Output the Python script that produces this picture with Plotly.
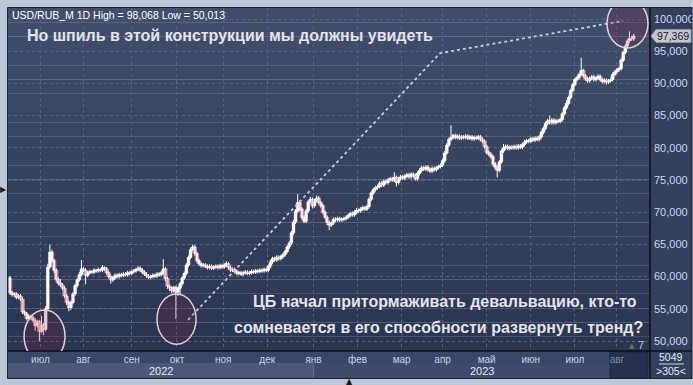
import plotly.graph_objects as go

# ---------------- data (USD/RUB daily candles) ----------------
close = [57.5,57.2,57.3,56.8,57.0,56.5,54.5,54.2,53.5,53.8,
 53.6,53.2,52.4,53.0,51.5,52.5,51.8,55.0,61.5,63.8,
 62.5,61.0,59.6,59.0,58.7,58.2,57.0,56.0,55.2,56.0,
 57.3,58.6,59.5,60.3,61.2,61.0,60.2,60.6,60.8,60.7,
 61.0,60.9,61.1,61.0,61.4,61.2,60.6,60.0,59.5,59.8,
 60.2,60.0,60.3,60.2,60.4,60.3,60.6,60.5,60.8,60.9,
 61.1,61.3,61.0,60.7,60.4,60.1,59.9,60.0,60.2,60.1,
 60.4,60.3,60.6,61.2,59.7,58.5,58.2,57.8,58.3,57.6,
 58.2,58.9,59.8,60.5,61.8,63.0,64.2,64.6,63.6,62.5,
 62.0,61.7,61.8,61.6,61.4,61.6,61.3,61.5,61.6,61.4,
 61.7,61.5,61.8,62.0,61.4,61.0,61.1,60.8,60.5,60.6,
 60.4,60.6,60.7,60.5,60.6,60.8,60.7,60.9,60.8,61.0,
 60.9,61.1,61.0,61.6,62.3,62.8,62.6,63.0,62.8,63.1,
 63.4,63.9,64.6,65.2,66.8,68.5,70.2,71.5,70.5,69.2,
 68.6,70.2,71.6,72.0,71.0,71.8,72.2,71.5,71.0,70.0,
 69.2,68.4,68.0,68.3,68.9,68.8,69.0,68.8,68.9,69.0,
 69.2,69.5,69.8,69.6,70.0,70.3,70.2,70.5,70.7,70.5,
 70.9,72.0,73.0,73.5,73.8,74.0,74.5,74.2,74.8,74.6,
 75.0,75.2,75.0,75.4,74.6,75.2,75.5,75.3,75.6,75.8,
 75.5,75.9,75.7,75.2,76.0,76.5,76.9,76.7,77.0,76.6,
 76.4,76.8,76.6,76.9,77.1,77.3,78.0,79.2,80.4,81.3,
 81.6,81.9,81.6,81.8,81.5,81.7,81.6,81.8,81.5,81.7,
 81.4,81.6,81.5,81.7,81.3,81.0,80.2,79.3,79.0,78.6,
 77.5,77.0,76.5,77.8,79.5,80.0,80.2,79.9,80.1,80.0,
 80.2,80.0,80.3,80.1,80.5,80.9,81.1,81.0,81.4,81.2,
 81.5,81.3,81.7,82.4,83.0,83.8,84.2,83.9,84.3,83.9,
 84.2,84.1,84.4,85.3,86.2,86.9,87.8,88.9,89.8,90.6,
 90.9,91.4,92.0,91.2,90.7,90.4,90.8,91.0,90.6,90.8,
 91.1,90.6,90.3,90.5,90.2,90.4,90.6,91.4,91.8,92.1,
 92.3,93.6,94.8,95.8,96.6,97.0,96.9,97.369]

high = [60.1,57.8,57.6,57.6,57.3,57.3,56.8,54.8,54.5,54.1,
 54.1,53.9,53.5,53.3,53.3,53.9,52.8,55.4,62.0,65.0,
 64.2,62.8,61.3,59.9,59.6,59.0,58.5,57.3,56.3,56.3,
 57.6,58.9,59.8,60.7,62.6,61.5,61.3,60.9,61.1,61.0,
 61.3,61.2,61.4,61.3,61.8,61.6,61.5,60.9,60.3,60.1,
 60.5,60.5,60.6,60.6,60.7,60.7,60.9,60.9,61.1,61.2,
 61.4,61.6,61.6,61.3,61.0,60.7,60.4,60.3,60.5,60.5,
 60.7,60.7,60.9,62.7,61.5,60.0,58.8,58.5,58.6,58.6,
 58.5,59.2,60.1,60.8,62.1,63.3,64.5,65.0,64.9,63.9,
 62.8,62.3,62.1,62.1,61.9,61.9,61.9,61.8,61.9,61.9,
 62.0,62.0,62.1,62.4,62.3,61.7,61.4,61.4,61.1,60.9,
 60.9,60.9,61.0,61.0,60.9,61.1,61.1,61.2,61.2,61.3,
 61.3,61.4,61.4,61.9,62.6,63.1,63.1,63.3,63.3,63.4,
 63.7,64.2,64.9,65.5,67.1,68.8,70.5,72.8,71.8,70.8,
 69.5,70.5,71.9,72.4,72.3,72.1,72.6,72.5,71.8,71.3,
 70.3,69.5,68.7,68.6,69.2,69.2,69.3,69.3,69.2,69.3,
 69.5,69.8,70.1,70.1,70.3,70.6,70.6,70.8,71.0,71.0,
 71.2,72.3,73.3,73.8,74.1,74.3,74.8,74.8,75.1,75.1,
 75.3,75.5,75.5,76.2,75.7,75.5,75.8,75.8,75.9,76.1,
 76.1,76.2,76.2,76.0,76.3,76.8,77.2,77.2,77.3,77.3,
 76.9,77.1,77.1,77.2,77.4,77.6,78.3,79.5,80.7,81.6,
 83.5,82.2,82.2,82.1,82.1,82.0,82.0,82.1,82.1,82.0,
 82.0,81.9,81.9,82.0,82.0,81.6,81.3,80.5,79.6,79.3,
 78.9,77.8,77.3,78.1,79.8,80.6,80.5,80.5,80.4,80.4,
 80.5,80.5,80.6,80.6,80.8,81.2,81.4,81.4,81.7,81.7,
 81.8,81.8,82.0,82.7,83.3,84.1,84.5,85.0,84.6,84.6,
 84.5,84.5,84.7,85.6,86.5,87.4,88.1,89.2,90.1,90.9,
 91.2,91.7,94.0,92.3,91.5,91.0,91.1,91.3,91.3,91.1,
 91.4,91.4,90.9,90.8,90.8,90.7,90.9,91.7,92.1,92.4,
 92.6,93.9,95.1,96.1,96.9,98.068,97.4,97.7]

low = [57.2,56.9,56.9,56.5,56.5,56.2,54.2,53.9,53.2,53.2,
 53.3,52.9,51.6,52.1,50.013,51.2,50.9,51.5,54.8,61.2,
 62.1,60.6,59.2,58.6,58.4,57.9,56.7,55.6,54.6,54.8,
 55.7,57.0,58.3,59.2,60.0,60.7,58.8,59.9,60.3,60.4,
 60.4,60.6,60.6,60.7,60.7,60.9,60.3,59.7,58.9,59.2,
 59.5,59.7,59.7,59.9,59.9,60.0,60.0,60.2,60.2,60.5,
 60.6,60.8,60.7,60.4,60.1,59.8,59.6,59.6,59.7,59.8,
 59.8,60.0,60.0,60.3,59.3,58.1,57.8,57.4,57.5,53.4,
 57.0,57.3,58.6,59.5,60.2,61.5,62.7,63.9,63.2,62.1,
 61.7,61.4,61.4,61.3,61.1,61.1,61.0,61.0,61.2,61.1,
 61.1,61.2,61.2,61.5,61.1,60.7,60.7,60.5,60.2,60.2,
 60.1,60.1,60.3,60.2,60.2,60.3,60.4,60.4,60.5,60.5,
 60.6,60.6,60.7,60.7,61.3,62.0,62.3,62.3,62.5,62.5,
 62.8,63.1,63.6,64.3,64.9,66.5,68.2,69.9,70.1,68.8,
 68.3,68.3,69.9,71.3,70.6,70.7,71.5,71.2,70.7,69.7,
 68.9,68.0,67.2,67.7,68.0,68.5,68.5,68.5,68.5,68.6,
 68.7,68.9,69.2,69.3,69.3,69.7,69.9,69.9,70.2,70.2,
 70.2,70.6,71.7,72.7,73.2,73.5,73.7,73.9,73.9,74.3,
 74.3,74.7,74.7,74.7,74.0,74.3,74.9,75.0,75.0,75.3,
 75.2,75.2,75.4,74.9,74.9,75.7,76.2,76.4,76.4,76.3,
 76.1,76.1,76.3,76.3,76.6,76.8,77.0,77.7,78.9,80.1,
 81.0,81.3,81.3,81.3,81.2,81.2,81.3,81.3,81.2,81.2,
 81.1,81.1,81.2,81.2,81.0,80.7,79.9,79.0,78.7,78.3,
 77.1,76.6,75.4,76.2,77.5,79.2,79.7,79.6,79.6,79.7,
 79.7,79.7,79.7,79.8,79.8,80.2,80.6,80.7,80.7,80.9,
 80.9,81.0,81.0,81.4,82.1,82.7,83.5,83.6,83.6,83.6,
 83.6,83.8,83.8,84.1,85.0,85.9,86.6,87.5,88.6,89.5,
 90.3,90.6,91.1,90.9,90.4,90.1,90.1,90.5,90.3,90.3,
 90.5,90.3,90.0,90.0,89.8,89.9,90.1,90.3,91.1,91.5,
 91.8,92.0,93.3,94.5,95.5,96.3,96.6,96.6]

first_open = 59.8
# forex session: each open equals the previous close
open_ = [first_open] + close[:-1]

month_labels = ['июл', 'авг', 'сен', 'окт', 'ноя', 'дек', 'янв', 'фев', 'мар', 'апр', 'май', 'июн', 'июл', 'авг']
month_start = [14.5, 35, 58, 79.5, 101.5, 122.5, 144.5, 165.5, 186.5, 206, 227, 248, 269, 289]
year_labels = ['2022', '2023']
price_ticks = [50, 55, 60, 65, 70, 75, 80, 85, 90, 95, 100]

# annotation geometry in data units (candle index, price)
spike_path_x = [84.8, 204.8, 291.9]
spike_path_y = [53.3, 94.7, 99.7]
circles = [(6.7, 26.2, 46.7, 54.8), (70.0, 88.6, 49.5, 57.3), (284.3, 303.8, 95.5, 103.1)]

idx = list(range(len(close)))
X0, X1 = -0.95, 304.76
Y0, Y1 = 48.45, 101.71


def ru(v):
    return '{:,.3f}'.format(v).replace('.', ',')


# ---------------- figure ----------------
W, H = 693, 385
ML, MR, MT, MB = 8, 43, 8, 34
PW, PH = W - ML - MR, H - MT - MB


def pxx(p):
    return (p - ML) / PW


def pxy(p):
    return (H - MB - p) / PH


fig = go.Figure()

fig.add_trace(go.Scatter(x=spike_path_x, y=spike_path_y, mode='lines',
                         line=dict(color='#c9c9d2', width=1.8, dash='dot'),
                         hoverinfo='skip', showlegend=False))

# wicks + thin bodies from the candlestick trace
fig.add_trace(go.Candlestick(
    x=idx, open=open_, high=high, low=low, close=close,
    increasing=dict(line=dict(color='#ffffff', width=1), fillcolor='#ffffff'),
    decreasing=dict(line=dict(color='#ffffff', width=1), fillcolor='#e3143c'),
    whiskerwidth=0, showlegend=False))

# wider bodies drawn over the candlestick: white for rising days, red with white rim for falling days
up_x = [i for i in idx if close[i] >= open_[i]]
dn_x = [i for i in idx if close[i] < open_[i]]
fig.add_trace(go.Bar(x=up_x, y=[close[i] - open_[i] for i in up_x], base=[open_[i] for i in up_x],
                     width=1.3, marker=dict(color='#ffffff', line=dict(color='#ffffff', width=0.5)),
                     hoverinfo='skip', showlegend=False))
fig.add_trace(go.Bar(x=dn_x, y=[open_[i] - close[i] for i in dn_x], base=[close[i] for i in dn_x],
                     width=1.6, marker=dict(color='#ec1040', line=dict(color='#ffffff', width=0.5)),
                     hoverinfo='skip', showlegend=False))

shapes = []
# plot background gradient
top_c = (0x41, 0x4e, 0x6b)
bot_c = (0x2a, 0x36, 0x51)
n = 24
for k in range(n):
    t = k / (n - 1)
    c = tuple(int(round(top_c[j] + (bot_c[j] - top_c[j]) * t)) for j in range(3))
    shapes.append(dict(type='rect', xref='paper', yref='paper', layer='below',
                       x0=0, x1=1, y0=1 - (k + 1) / n, y1=1 - k / n,
                       fillcolor='rgb(%d,%d,%d)' % c, line=dict(width=0)))
# right axis panel
shapes.append(dict(type='rect', xref='paper', yref='paper', layer='below',
                   x0=pxx(650), x1=pxx(692), y0=pxy(351), y1=pxy(8),
                   fillcolor='#33405c', line=dict(width=0)))
# bottom month row
shapes.append(dict(type='rect', xref='paper', yref='paper', layer='below',
                   x0=pxx(8), x1=pxx(650), y0=pxy(363), y1=pxy(351),
                   fillcolor='#3a4766', line=dict(width=0)))
jan_px = ML + (month_start[6] - X0) / (X1 - X0) * PW
# year row bands
shapes.append(dict(type='rect', xref='paper', yref='paper', layer='below',
                   x0=pxx(8), x1=pxx(jan_px), y0=pxy(378), y1=pxy(363),
                   fillcolor='#4b5877', line=dict(width=0)))
shapes.append(dict(type='rect', xref='paper', yref='paper', layer='below',
                   x0=pxx(jan_px), x1=pxx(650), y0=pxy(378), y1=pxy(363),
                   fillcolor='#3e4b6a', line=dict(width=0)))
# current month dark box
shapes.append(dict(type='rect', xref='paper', yref='paper', layer='below',
                   x0=pxx(610), x1=pxx(648), y0=pxy(378), y1=pxy(352),
                   fillcolor='#25314f', line=dict(color='#1d2740', width=1)))
# bottom-right info box
shapes.append(dict(type='rect', xref='paper', yref='paper', layer='below',
                   x0=pxx(650), x1=pxx(692), y0=pxy(378), y1=pxy(351),
                   fillcolor='#33405c', line=dict(width=0)))
shapes.append(dict(type='line', xref='paper', yref='paper',
                   x0=pxx(659), x1=pxx(684), y0=pxy(364), y1=pxy(364),
                   line=dict(color='#c8d4ea', width=1)))
# separators
shapes.append(dict(type='line', xref='paper', yref='paper',
                   x0=pxx(650), x1=pxx(650), y0=pxy(378), y1=pxy(8),
                   line=dict(color='#0c0f18', width=1.5)))
shapes.append(dict(type='line', xref='paper', yref='paper',
                   x0=pxx(8), x1=pxx(692), y0=pxy(351), y1=pxy(351),
                   line=dict(color='#0c0f18', width=1.5)))
shapes.append(dict(type='rect', xref='paper', yref='paper',
                   x0=pxx(7.5), x1=pxx(692), y0=pxy(378.5), y1=pxy(7.5),
                   fillcolor='rgba(0,0,0,0)', line=dict(color='#1b2233', width=1)))
# circles
for (xa, xb, ya, yb) in circles:
    shapes.append(dict(type='circle', xref='x', yref='y', layer='above',
                       x0=xa, x1=xb, y0=ya, y1=yb,
                       fillcolor='rgba(140,20,60,0.2)',
                       line=dict(color='#ddd2da', width=1.5)))
# last price tag
last = close[-1]
ly = 19 + (100 - last) * (341 - 19) / 50.0
tag_path = 'M {a},{b} L {c},{d} L {e},{d} L {e},{f} L {c},{f} Z'.format(
    a=pxx(651), b=pxy(ly), c=pxx(656), d=pxy(ly - 6.5), e=pxx(691), f=pxy(ly + 6.5))
shapes.append(dict(type='path', xref='paper', yref='paper', path=tag_path,
                   fillcolor='#c4c8d0', line=dict(color='#9098a8', width=1)))

big_font = dict(family='Liberation Sans', size=16, color='#e4e4ea')
annotations = []
annotations.append(dict(x=pxx(10), y=pxy(15), xref='paper', yref='paper',
                        text='USD/RUB_M 1D High = {} Low = {}'.format(ru(max(high)), ru(min(low))),
                        showarrow=False, xanchor='left', yanchor='middle',
                        font=dict(family='Liberation Sans', size=10.5, color='#ffffff')))
annotations.append(dict(x=pxx(25), y=pxy(36), xref='paper', yref='paper',
                        text='<b>Но шпиль в этой конструкции мы должны увидеть</b>',
                        showarrow=False, xanchor='left', yanchor='middle', font=big_font))
annotations.append(dict(x=pxx(639), y=pxy(301), xref='paper', yref='paper',
                        text='<b>ЦБ начал притормаживать девальвацию, кто-то</b>',
                        showarrow=False, xanchor='right', yanchor='middle', font=big_font))
annotations.append(dict(x=pxx(645), y=pxy(327), xref='paper', yref='paper',
                        text='<b>сомневается в его способности развернуть тренд?</b>',
                        showarrow=False, xanchor='right', yanchor='middle', font=big_font))
# year labels centred over their bands
year_centres = [(X0 + month_start[6]) / 2, (month_start[6] + X1) / 2]
for lab, xc in zip(year_labels, year_centres):
    annotations.append(dict(x=xc, y=pxy(370.5), xref='x', yref='paper', text=lab,
                            showarrow=False, xanchor='center', yanchor='middle',
                            font=dict(family='Liberation Sans', size=11, color='#e2e8f4')))
# last price text
annotations.append(dict(x=pxx(673), y=pxy(ly), xref='paper', yref='paper',
                        text=ru(last), showarrow=False,
                        xanchor='center', yanchor='middle',
                        font=dict(family='Liberation Sans', size=10.5, color='#1a1a22')))
# bottom-right info box
annotations.append(dict(x=pxx(671), y=pxy(357), xref='paper', yref='paper', text='5049',
                        showarrow=False, xanchor='center', yanchor='middle',
                        font=dict(family='Liberation Sans', size=10.5, color='#e0e8f6')))
annotations.append(dict(x=pxx(671), y=pxy(371), xref='paper', yref='paper', text='&gt;305&lt;',
                        showarrow=False, xanchor='center', yanchor='middle',
                        font=dict(family='Liberation Sans', size=10.5, color='#e0e8f6')))
annotations.append(dict(x=pxx(641), y=pxy(345), xref='paper', yref='paper', text='7',
                        showarrow=False, xanchor='center', yanchor='middle',
                        font=dict(family='Liberation Sans', size=11, color='#a8ccf4')))
annotations.append(dict(x=pxx(632), y=pxy(346), xref='paper', yref='paper', text='▲',
                        showarrow=False, xanchor='center', yanchor='middle',
                        font=dict(family='DejaVu Sans', size=7, color='#5d6a84')))
# frame arrows
annotations.append(dict(x=pxx(3), y=pxy(190), xref='paper', yref='paper', text='▶',
                        showarrow=False, xanchor='center', yanchor='middle',
                        font=dict(family='DejaVu Sans', size=8, color='#1a1a1a')))
annotations.append(dict(x=pxx(350), y=pxy(381), xref='paper', yref='paper', text='▲',
                        showarrow=False, xanchor='center', yanchor='middle',
                        font=dict(family='DejaVu Sans', size=8, color='#1a1a1a')))

tick_text = list(month_labels)
tick_text[-1] = '<span style="color:#7d8aa4">' + month_labels[-1] + '</span>'

fig.update_layout(
    width=W, height=H,
    margin=dict(l=ML, r=MR, t=MT, b=MB, autoexpand=False),
    paper_bgcolor='#bcc8d8', plot_bgcolor='rgba(0,0,0,0)',
    showlegend=False, hovermode=False, barmode='overlay',
    shapes=shapes, annotations=annotations,
    xaxis=dict(range=[X0, X1], rangeslider=dict(visible=False),
               tickmode='array', tickvals=month_start, ticktext=tick_text,
               showgrid=True, gridcolor='#56637f', griddash='3px,3px', gridwidth=1,
               zeroline=False, showline=False, ticks='', ticklabelstandoff=1,
               tickfont=dict(family='Liberation Sans', size=10, color='#c4d2ea'),
               automargin=False, fixedrange=True),
    yaxis=dict(range=[Y0, Y1], side='right',
               tickmode='array', tickvals=price_ticks,
               ticktext=[ru(v) for v in price_ticks],
               showgrid=True, gridcolor='#56637f', griddash='3px,3px', gridwidth=1,
               zeroline=False, showline=False, ticks='', ticklabelstandoff=3,
               tickfont=dict(family='Liberation Sans', size=11, color='#c8d8f2'),
               automargin=False, fixedrange=True),
)

fig.write_html('out.html')
